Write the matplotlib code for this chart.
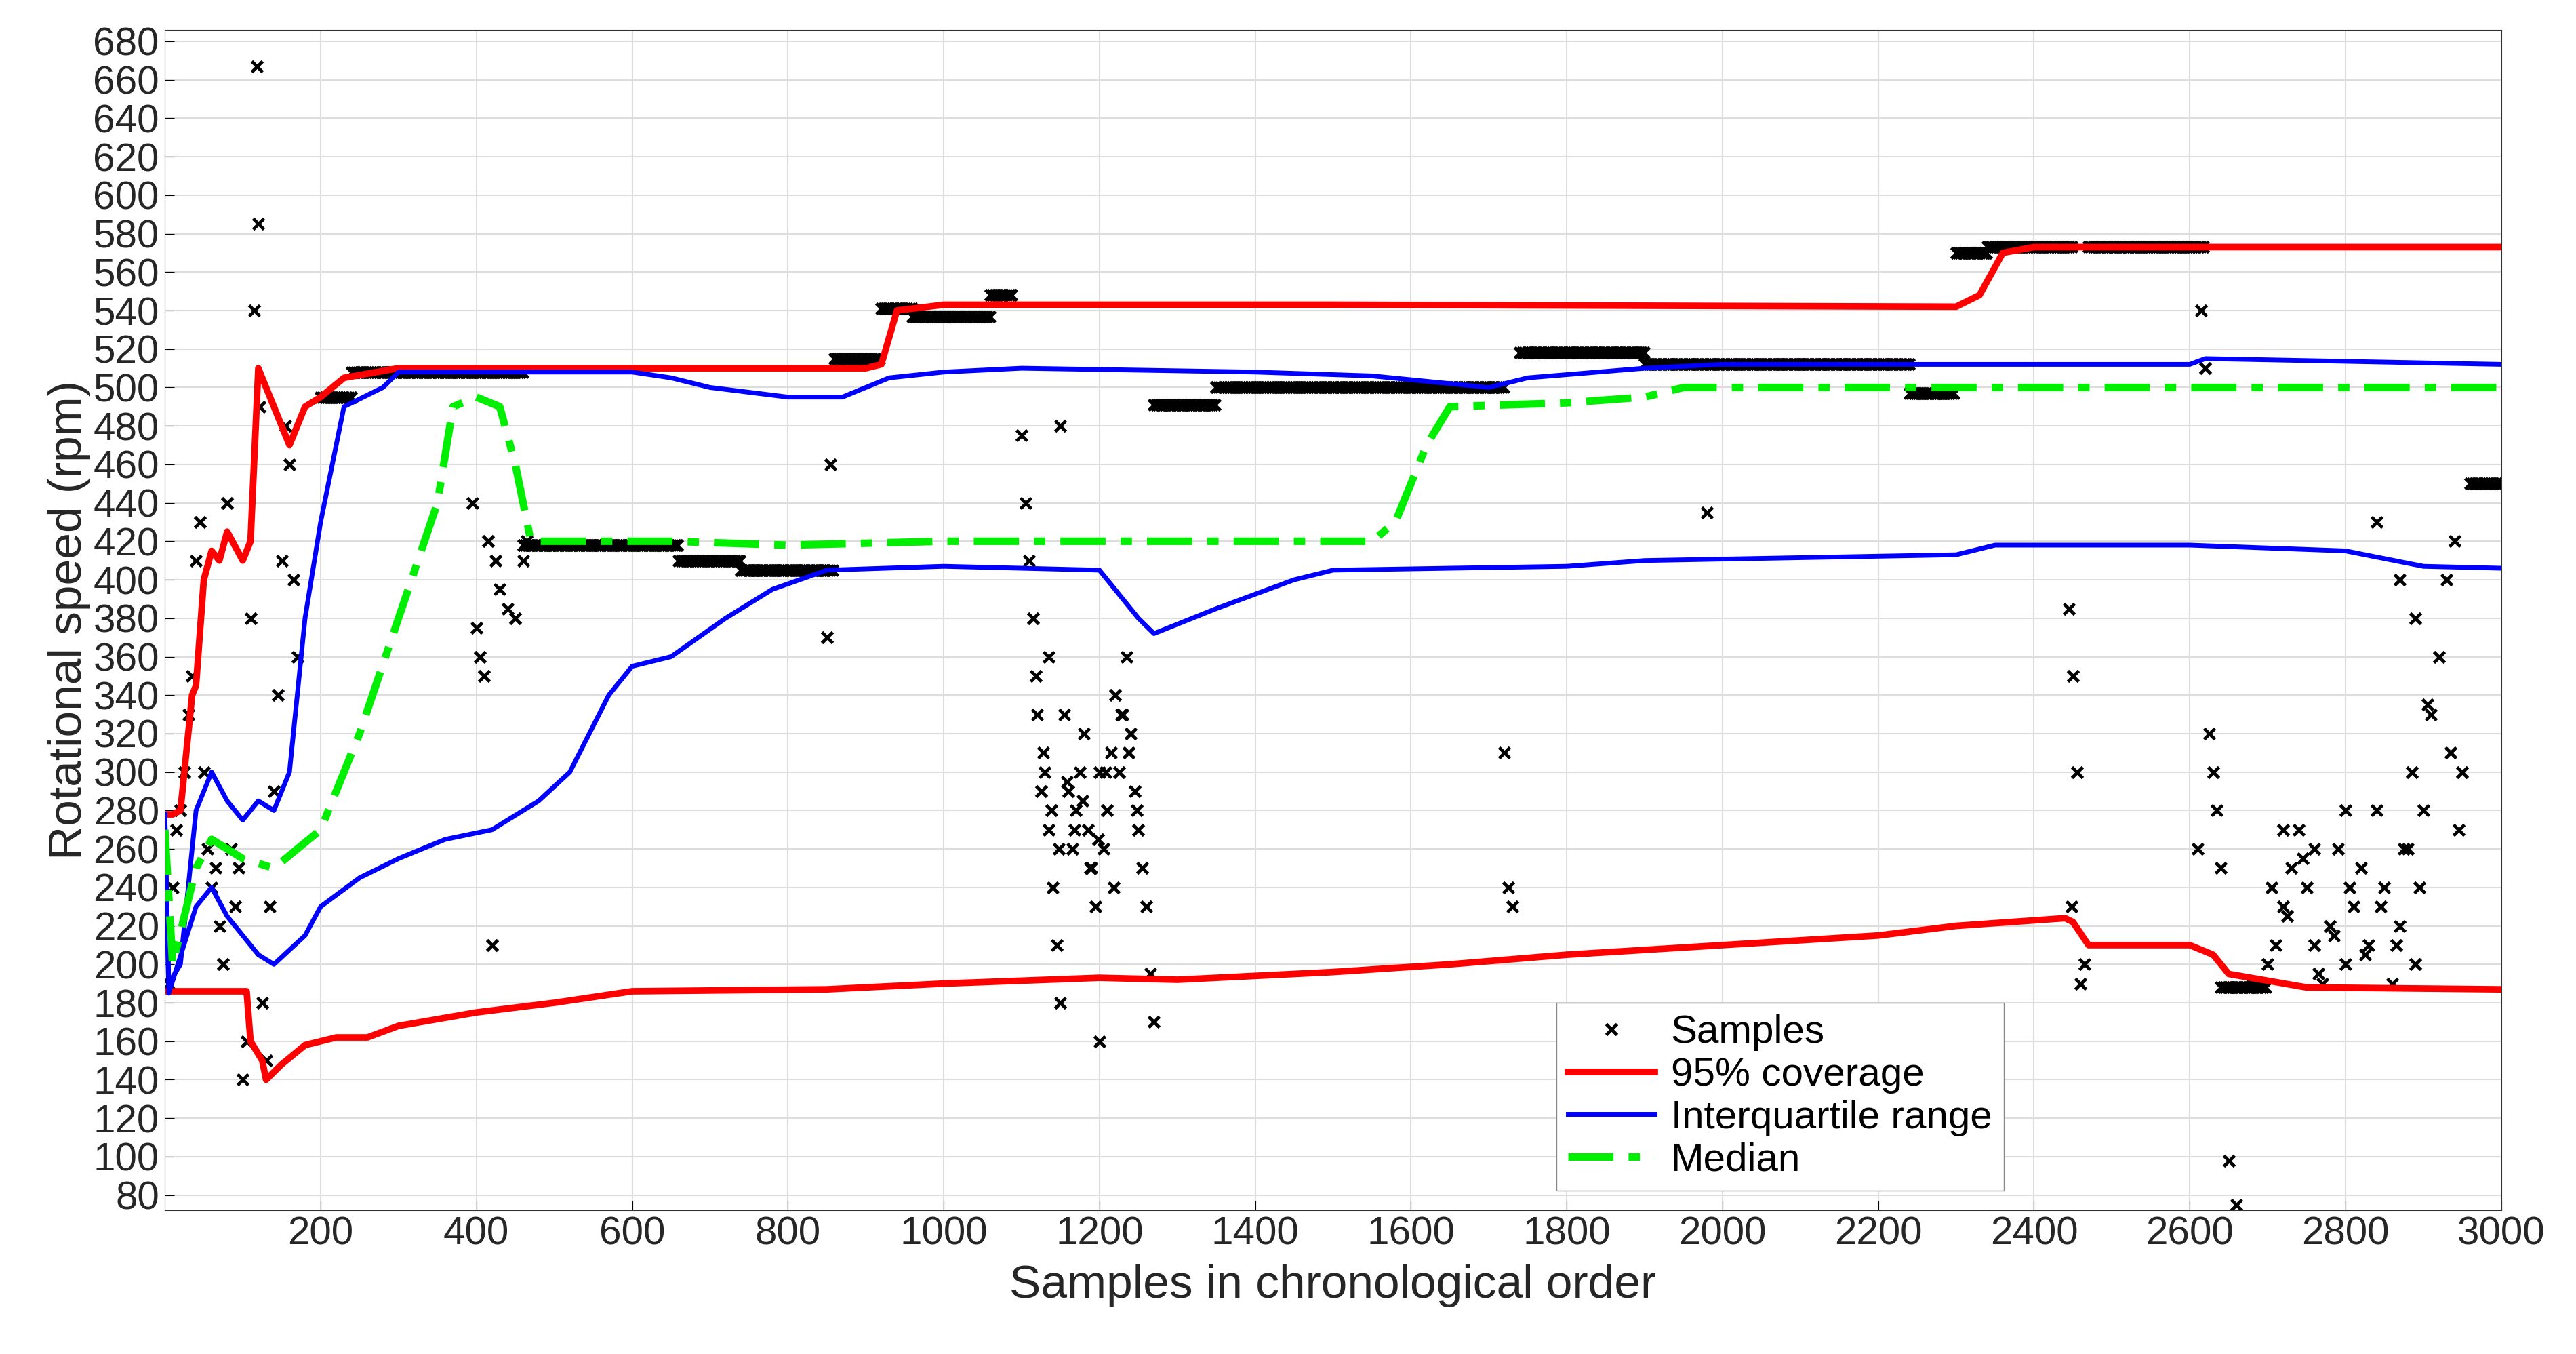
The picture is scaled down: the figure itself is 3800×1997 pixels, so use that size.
import numpy as np
import matplotlib
matplotlib.use("Agg")
import matplotlib.pyplot as plt

plt.rcParams['font.family'] = ['Liberation Sans', 'DejaVu Sans']

# 95% coverage bounds
red_up_x = [0,10,20,35,40,50,60,70,80,100,110,120,140,160,180,200,230,300,900,920,940,1000,1500,2300,2330,2360,2400,3000]
red_up_y = [278,278,280,340,345,400,415,410,425,410,420,510,490,470,490,495,505,510,510,512,540,543,543,542,548,570,573,573]
red_lo_x = [0,100,105,110,125,130,150,180,220,260,300,400,500,600,850,1000,1200,1300,1500,1650,1800,2000,2200,2300,2440,2450,2470,2600,2630,2650,2750,3000]
red_lo_y = [186,186,186,160,150,140,148,158,162,162,168,175,180,186,187,190,193,192,196,200,205,210,215,220,224,222,210,210,205,195,188,187]
# interquartile range
blue_up_x = [0,5,20,40,60,80,100,120,140,160,180,200,230,280,300,600,650,700,800,870,930,1000,1100,1400,1550,1700,1750,1900,2000,2600,2620,3000]
blue_up_y = [278,190,200,280,300,285,275,285,280,300,380,430,490,500,508,508,505,500,495,495,505,508,510,508,506,500,505,510,512,512,515,512]
blue_lo_x = [0,5,40,60,80,100,120,140,180,200,250,300,360,420,480,520,570,600,650,720,780,850,1000,1200,1250,1270,1350,1450,1500,1800,1900,2300,2350,2600,2800,2900,3000]
blue_lo_y = [278,185,230,240,225,215,205,200,215,230,245,255,265,270,285,300,340,355,360,380,395,405,407,405,380,372,385,400,405,407,410,413,418,418,415,407,406]
# median
med_x = [0,10,40,60,100,140,170,200,250,300,350,370,400,430,450,470,650,800,1000,1550,1580,1620,1650,1800,1900,1950,3000]
med_y = [270,200,250,265,255,250,260,270,320,380,440,490,495,490,460,420,420,418,420,420,430,470,490,492,495,500,500]

# sample plateaus: (x start, x end, value)
plateaus = [(200,240,495),(240,460,508),(460,660,418),(660,740,410),(740,860,405),(860,920,515),
            (920,960,541),(960,1060,537),(1060,1090,548),(1270,1350,491),(1350,1720,500),(1740,1900,518),
            (1900,2240,512),(2240,2300,497),(2300,2340,570),(2340,2450,573),(2470,2620,573),
            (2640,2700,188),(2960,3000,450)]
# scattered samples
sx = [5,10,15,20,25,30,35,40,45,50,55,60,65,70,75,80,85,90,95,100,105,110,115,118,120,122,125,130,135,140,145,150,155,160,165,170,
      395,400,405,410,415,420,425,430,440,450,460,465,850,855,1100,1105,1110,1115,1120,1125,1130,1135,1140,1145,1150,1155,1160,1165,1170,1175,1180,
      1185,1190,1195,1200,1205,1210,1215,1220,1225,1230,1235,1240,1245,1250,1255,1260,1265,1270,1200,1150,1135,1720,1725,1730,1980,2450,2455,2460,2465,
      2448,2445,2610,2615,2620,2625,2630,2635,2640,2650,2660,2680,2700,2710,2720,2730,2740,2750,2760,2770,2780,2790,2800,2810,2820,2830,2840,2850,
      2860,2870,2880,2885,2890,2895,2900,2910,2920,2930,2940,2950,2720,2760,2800,2840,2870,2890,2905,2935,2945,
      1118,1128,1138,1148,1158,1168,1178,1188,1198,1208,1218,1228,1238,1248,2705,2725,2745,2765,2785,2805,2825,2845,2865,2875]
sy = [190,240,270,280,300,330,350,410,430,300,260,240,250,220,200,440,260,230,250,140,160,380,540,667,585,490,180,150,230,290,340,410,480,460,400,360,
      440,375,360,350,420,210,410,395,385,380,410,420,370,460,475,440,410,380,330,290,300,270,240,210,180,330,290,260,280,300,320,
      270,250,230,300,260,280,310,340,300,330,360,320,290,270,250,230,195,170,160,480,360,310,240,230,435,350,300,190,200,230,
      385,260,540,510,320,300,280,250,98,75,190,200,210,230,250,270,240,210,190,220,260,200,230,250,210,280,240,190,220,260,
      300,200,240,280,330,360,400,420,300,270,260,280,430,400,380,335,310,270,
      350,310,280,260,295,270,285,250,265,300,240,330,310,280,240,225,255,195,215,240,205,230,210,260]
xs, ys = [], []
for a, b, v in plateaus:
    xv = np.arange(a, b, 3)
    xs.extend(xv); ys.extend([v]*len(xv))
xs.extend(sx); ys.extend(sy)

tc = '#262626'
fig = plt.figure(figsize=(38, 19.97), dpi=100)
ax = fig.add_axes([0.064, 0.106, 0.907, 0.872])
ax.plot(xs, ys, 'x', color='black', ms=12, mew=3.5, label='Samples')
ax.plot(red_up_x, red_up_y, color='red', lw=7, label='95% coverage')
ax.plot(red_lo_x, red_lo_y, color='red', lw=7)
ax.plot(blue_up_x, blue_up_y, color='blue', lw=5, label='Interquartile range')
ax.plot(blue_lo_x, blue_lo_y, color='blue', lw=5)
ax.plot(med_x, med_y, color='#00ee00', lw=8, ls='-.', dashes=(6,2,1.5,2), label='Median')

ax.set_xlim(0, 3000)
ax.set_ylim(72, 686)
ax.set_xticks(range(200, 3001, 200))
ax.set_yticks(range(80, 681, 20))
ax.tick_params(labelsize=42, direction='in', length=10, labelcolor=tc, pad=6)
ax.grid(True, color='#dddddd', lw=1.5)
ax.set_xlabel('Samples in chronological order', fontsize=50, color=tc, labelpad=12)
ax.set_ylabel('Rotational speed (rpm)', fontsize=50, color=tc, labelpad=2)
for s in ax.spines.values():
    s.set_color('#333333')
ax.legend(loc='lower left', bbox_to_anchor=(0.587, 0.0), fontsize=42, frameon=True,
          fancybox=False, edgecolor='#888888', handlelength=2.2, borderpad=0.3, labelspacing=0.15,
          handletextpad=0.4, framealpha=1)
fig.savefig('out.png')
